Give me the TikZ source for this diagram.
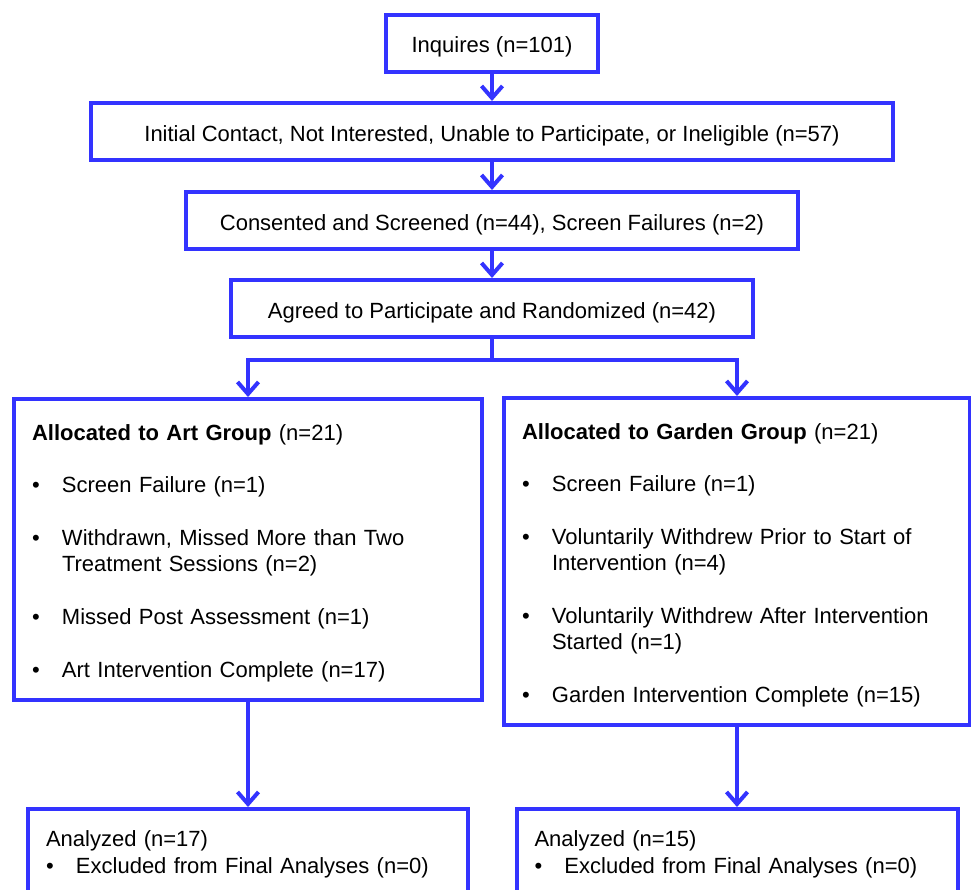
\documentclass[tikz,border=0pt]{standalone}
\usepackage{fontspec}
\setmainfont{Liberation Sans}
\usetikzlibrary{arrows.meta}
\definecolor{flowblue}{RGB}{51,51,255}
\newcommand{\bitem}{\makebox[30pt][l]{\textbullet}}
\newcommand{\bcont}{\hspace*{30pt}}
\newcommand{\topstrut}{\rule{0pt}{23pt}}

\begin{document}
\begin{tikzpicture}[x=1pt,y=-1pt,
    box/.style={draw=flowblue,line width=4pt,minimum height=57pt,inner sep=0pt,
      font=\fontsize{22}{26.3}\selectfont},
    stage/.style={box,text height=19pt,text depth=0pt},
    group/.style={box,align=left,inner xsep=18pt},
    line/.style={draw=flowblue,line width=4pt},
    arr/.style={line,-{Straight Barb[length=12pt,width=21pt]}}]
      \useasboundingbox (0,0) rectangle (971,889);
      \clip (0,0) rectangle (971,889);

      \node[stage,minimum width=212pt] (inq) at (492,43){Inquires (n=101)};
      \node[stage,minimum width=802pt] (contact) at (492,131.5){Initial Contact, Not Interested, Unable to Participate, or Ineligible (n=57)};
      \node[stage,minimum width=612pt] (consent) at (492,220.5){Consented and Screened (n=44), Screen Failures (n=2)};
      \node[stage,minimum width=522pt] (rand) at (492,308.5){Agreed to Participate and Randomized (n=42)};

      \node[group,text width=432pt,minimum height=301pt] (art) at (248,549.5){%
        \topstrut\textbf{Allocated to Art Group} (n=21)\\[26.3pt]
        \bitem Screen Failure (n=1)\\[26.3pt]
        \bitem Withdrawn, Missed More than Two\\
        \bcont Treatment Sessions (n=2)\\[26.3pt]
        \bitem Missed Post Assessment (n=1)\\[26.3pt]
        \bitem Art Intervention Complete (n=17)};
      \node[group,text width=430pt,minimum height=327pt] (garden) at (737,561.5){%
        \topstrut\textbf{Allocated to Garden Group} (n=21)\\[26.3pt]
        \bitem Screen Failure (n=1)\\[26.3pt]
        \bitem Voluntarily Withdrew Prior to Start of\\
        \bcont Intervention (n=4)\\[26.3pt]
        \bitem Voluntarily Withdrew After Intervention\\
        \bcont Started (n=1)\\[26.3pt]
        \bitem Garden Intervention Complete (n=15)};

      \node[group,anchor=north,text width=404pt,inner ysep=22pt] (artres) at (248,807){%
        Analyzed (n=17)\\
        \bitem Excluded from Final Analyses (n=0)};
      \node[group,anchor=north,text width=405pt,inner ysep=22pt] (gardenres) at (737,807){%
        Analyzed (n=15)\\
        \bitem Excluded from Final Analyses (n=0)};

      \coordinate (split) at (492,360);
      \draw[arr] (inq) to (contact);
      \draw[arr] (contact) to (consent);
      \draw[arr] (consent) to (rand);
      \draw[line] (rand) to (split);
      \draw[arr] (split) -| (art);
      \draw[arr] (split) -| (garden);
      \draw[arr] (art) to (artres);
      \draw[arr] (garden) to (gardenres);
    \end{tikzpicture}
\end{document}
